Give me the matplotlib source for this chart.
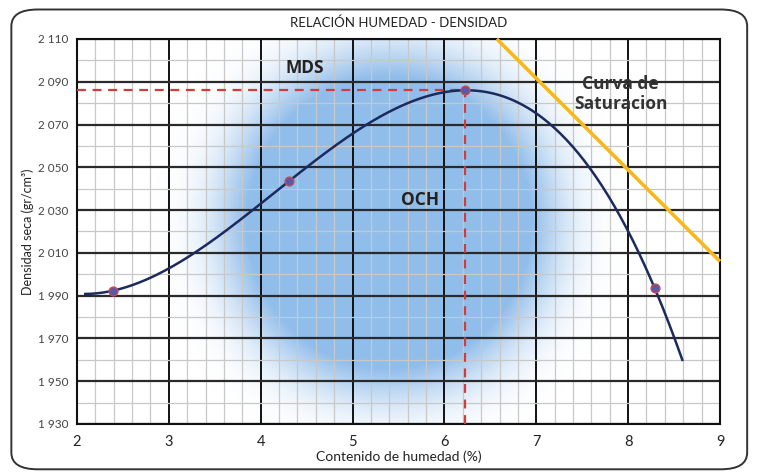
import numpy as np
import matplotlib.pyplot as plt
from matplotlib.patches import FancyBboxPatch

# measured points (humedad %, densidad seca)
humedad = [2.39, 4.31, 6.22, 8.29]
densidad = [1992.3, 2043.6, 2086.0, 1993.4]

# trend line range
curve_x_range = [2.09, 8.59]

# optimum values
och = 6.22
mds = 2086.0

# saturation line end points
sat_x = [6.57, 9.0]
sat_y = [2110.0, 2006.0]

x_ticks = [2, 3, 4, 5, 6, 7, 8, 9]
y_ticks = [1930, 1950, 1970, 1990, 2010, 2030, 2050, 2070, 2090, 2110]
y_tick_labels = ["1 930", "1 950", "1 970", "1 990", "2 010", "2 030",
                 "2 050", "2 070", "2 090", "2 110"]

plt.rcParams['font.family'] = ['Lato', 'DejaVu Sans']

fig = plt.figure(figsize=(7.57, 4.75), dpi=100)
ax = fig.add_axes([0.1017, 0.1074, 0.8494, 0.8106])

# outer rounded frame of the chart area
frame = FancyBboxPatch((0.015, 0.012), 0.972, 0.968,
                       boxstyle="round,pad=0,rounding_size=0.035",
                       transform=fig.transFigure, fill=False,
                       edgecolor='#333333', linewidth=1.4)
fig.patches.append(frame)

# soft blue blob behind the grid
gx = np.linspace(2, 9, 400)
gy = np.linspace(1930, 2110, 300)
GX, GY = np.meshgrid(gx, gy)
r2 = ((GX - 5.4) / 2.0) ** 2 + ((GY - 2024) / 88) ** 2
alpha = np.clip(1.3 * np.exp(-r2 ** 2.2 / 0.55), 0, 0.72)
img = np.zeros(GX.shape + (4,))
img[..., 0] = 0.40
img[..., 1] = 0.64
img[..., 2] = 0.89
img[..., 3] = alpha
ax.imshow(img, extent=[2, 9, 1930, 2110], origin='lower', aspect='auto',
          zorder=0, interpolation='bilinear')

ax.set_xlim(2, 9)
ax.set_ylim(1930, 2110)
ax.set_xticks(x_ticks)
ax.set_yticks(y_ticks)
ax.set_yticklabels(y_tick_labels)
ax.set_xticks(np.arange(2, 9.01, 0.2), minor=True)
ax.set_yticks(np.arange(1930, 2110.1, 10), minor=True)
ax.grid(which='minor', color='#c8c8c8', linewidth=0.9, zorder=1)
ax.grid(which='major', axis='x', color='#111111', linewidth=1.4, zorder=2)
ax.grid(which='major', axis='y', color='#2a2a2a', linewidth=1.6, zorder=2)
ax.set_axisbelow(True)
ax.tick_params(which='both', length=0)
ax.tick_params(axis='x', labelsize=10.5, pad=8, colors='#222222')
ax.tick_params(axis='y', labelsize=8.5, pad=6, colors='#444444')
for s in ax.spines.values():
    s.set_linewidth(1.5)
    s.set_color('#111111')

# polynomial trend line through the measured points
coef = np.polyfit(humedad, densidad, 3)
cx = np.linspace(curve_x_range[0], curve_x_range[1], 300)
ax.plot(cx, np.polyval(coef, cx), color='#1c2a5e', linewidth=1.8, zorder=5)

# MDS / OCH reference lines
ax.plot([2, och], [mds, mds], color='#d33a3a', linewidth=1.6,
        dashes=(4, 3), zorder=4)
ax.plot([och, och], [1930, mds], color='#d33a3a', linewidth=1.6,
        dashes=(4, 3), zorder=4)

ax.scatter(humedad, densidad, s=40, facecolor='#5c58a8', edgecolor='#d04848',
           linewidth=1.0, zorder=6)

# saturation line
ax.plot(sat_x, sat_y, color='#f6b81c', linewidth=2.6, zorder=4,
        solid_capstyle='butt', clip_on=False)

ann = dict(fontweight='bold', ha='center', va='center', zorder=7,
           family=['Open Sans', 'DejaVu Sans'])
ax.text(4.48, 2096.5, "MDS", fontsize=12.5, color='#222222', **ann)
ax.text(5.73, 2034.7, "OCH", fontsize=12.5, color='#222222', **ann)
ax.text(7.92, 2084.3, "Curva de\nSaturacion", fontsize=12.5,
        color='#333333', linespacing=1.1, **ann)

fig.text(0.526, 0.953, "RELACIÓN HUMEDAD - DENSIDAD", fontsize=9.5,
         ha='center', va='center', color='#222222')
ax.set_xlabel("Contenido de humedad (%)", fontsize=10, labelpad=1,
              color='#222222')
ax.set_ylabel("Densidad seca (gr/cm³)", fontsize=9, labelpad=3,
              color='#222222')

fig.savefig('out.png', dpi=100)
